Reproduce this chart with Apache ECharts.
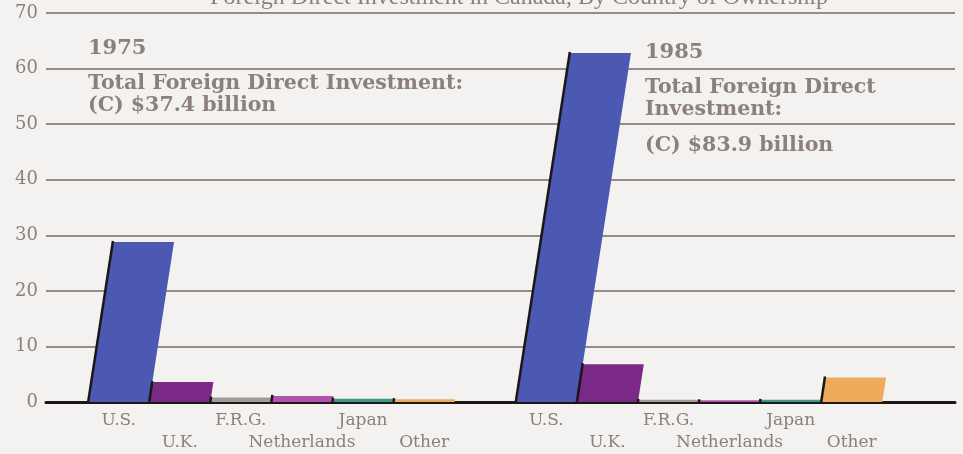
<!DOCTYPE html>
<html>
<head>
<meta charset="utf-8">
<script src="https://cdn.jsdelivr.net/npm/echarts@6/dist/echarts.min.js"></script>
<style>
  html, body { margin: 0; padding: 0; background: #f3f2f0; }
  #chart { width: 963px; height: 454px; }
</style>
</head>
<body>
<div id="chart"></div>
<script>
// data (billions of dollars)
var countries = ['U.S.', 'U.K.', 'F.R.G.', 'Netherlands', 'Japan', 'Other'];
var values1975 = [28.8, 3.6, 0.8, 1.1, 0.6, 0.5];
var values1985 = [62.8, 6.8, 0.4, 0.3, 0.4, 4.4];
var barColors = ['#4b59b2', '#7a2a86', '#a29b98', '#b252b0', '#3d9a88', '#eeab5c'];
var yTicks = [0, 10, 20, 30, 40, 50, 60, 70];

var textColor = '#8b807c';

// one slot per country, one empty slot between the two years
var barData = [];
countries.forEach(function (c, i) {
    barData.push([i, values1975[i], i]);
});
countries.forEach(function (c, i) {
    barData.push([i + 7, values1985[i], i]);
});

var chart = echarts.init(document.getElementById('chart'));

function renderBar(params, api) {
    var x0 = api.value(0);
    var v = api.value(1);
    var idx = api.value(2);
    var bl = api.coord([x0, 0]);
    var tr = api.coord([x0 + 1, v]);
    var h = bl[1] - tr[1];
    var s = h * 0.155; // slanted look of the original
    var w = tr[0] - bl[0];
    var row = idx % 2;
    return {
        type: 'group',
        children: [
            {
                type: 'polygon',
                shape: { points: [[bl[0], bl[1]], [bl[0] + w, bl[1]], [bl[0] + w + s, tr[1]], [bl[0] + s, tr[1]]] },
                style: { fill: barColors[idx] }
            },
            {
                type: 'line',
                shape: { x1: bl[0], y1: bl[1], x2: bl[0] + s, y2: tr[1] - 1 },
                style: { stroke: '#1c1616', lineWidth: 2.5 }
            },
            {
                type: 'text',
                style: {
                    text: countries[idx],
                    x: bl[0] + w / 2,
                    y: bl[1] + 19 + row * 22,
                    align: 'center',
                    verticalAlign: 'middle',
                    fill: textColor,
                    font: '17px "DejaVu Serif"'
                }
            }
        ]
    };
}

var boldFont = 'bold 20.5px "DejaVu Serif"';

chart.setOption({
    backgroundColor: '#f3f2f0',
    animation: false,
    grid: { left: 46, right: 8, top: 13, bottom: 52 },
    xAxis: {
        type: 'value',
        min: -0.69,
        max: 14.19,
        axisLine: { show: true, onZero: true, lineStyle: { color: '#1c1616', width: 3 } },
        axisTick: { show: false },
        axisLabel: { show: false },
        splitLine: { show: false }
    },
    yAxis: {
        type: 'value',
        min: yTicks[0],
        max: yTicks[yTicks.length - 1],
        interval: 10,
        axisLine: { show: false },
        axisTick: { show: false },
        axisLabel: {
            color: textColor,
            fontFamily: 'DejaVu Serif',
            fontSize: 18,
            margin: 8
        },
        splitLine: { lineStyle: { color: '#958b88', width: 2 } }
    },
    graphic: [
        {
            // title is cut off at the top edge in the original scan
            type: 'text', x: 828, y: 10,
            style: { text: 'Foreign Direct Investment in Canada, By Country of Ownership', align: 'right', verticalAlign: 'bottom', fill: textColor, font: '24px "Liberation Serif"' }
        },
        {
            type: 'text', x: 88, y: 59,
            style: { text: '1975', verticalAlign: 'bottom', fill: textColor, font: 'bold 21px "DejaVu Serif"' }
        },
        {
            type: 'text', x: 88, y: 94,
            style: { text: 'Total Foreign Direct Investment:', verticalAlign: 'bottom', fill: textColor, font: boldFont }
        },
        {
            type: 'text', x: 88, y: 116,
            style: { text: '(C) $37.4 billion', verticalAlign: 'bottom', fill: textColor, font: boldFont }
        },
        {
            type: 'text', x: 645, y: 63,
            style: { text: '1985', verticalAlign: 'bottom', fill: textColor, font: 'bold 21px "DejaVu Serif"' }
        },
        {
            type: 'text', x: 645, y: 98,
            style: { text: 'Total Foreign Direct', verticalAlign: 'bottom', fill: textColor, font: boldFont }
        },
        {
            type: 'text', x: 645, y: 120,
            style: { text: 'Investment:', verticalAlign: 'bottom', fill: textColor, font: boldFont }
        },
        {
            type: 'text', x: 645, y: 156,
            style: { text: '(C) $83.9 billion', verticalAlign: 'bottom', fill: textColor, font: boldFont }
        }
    ],
    series: [{
        type: 'custom',
        renderItem: renderBar,
        clip: false,
        encode: { x: 0, y: 1 },
        data: barData
    }]
});
</script>
</body>
</html>
